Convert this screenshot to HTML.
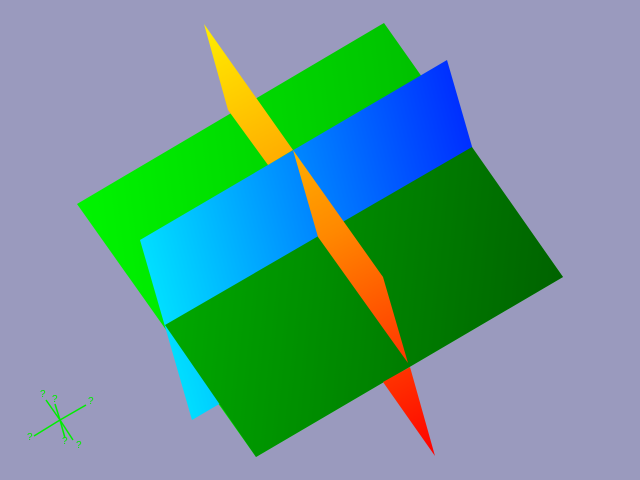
<!DOCTYPE html>
<html><head><meta charset="utf-8"><style>
html,body{margin:0;padding:0;background:#9a9abe;}
svg{display:block;}
</style></head><body>
<svg width="640" height="480" viewBox="0 0 640 480" xmlns="http://www.w3.org/2000/svg">
<defs>
<linearGradient id="gUp" gradientUnits="userSpaceOnUse" x1="80" y1="200" x2="470" y2="150">
<stop offset="0" stop-color="#00f400"/><stop offset="1" stop-color="#00bb00"/></linearGradient>
<linearGradient id="gLow" gradientUnits="userSpaceOnUse" x1="170" y1="300" x2="560" y2="340">
<stop offset="0" stop-color="#00a800"/><stop offset="1" stop-color="#006200"/></linearGradient>
<linearGradient id="bl" gradientUnits="userSpaceOnUse" x1="130" y1="240" x2="470" y2="150">
<stop offset="0" stop-color="#00e4ff"/><stop offset="1" stop-color="#0030ff"/></linearGradient>
<linearGradient id="or" gradientUnits="userSpaceOnUse" x1="204" y1="24" x2="435" y2="456">
<stop offset="0" stop-color="#ffee00"/><stop offset="0.5" stop-color="#ff8800"/><stop offset="1" stop-color="#ff0000"/></linearGradient>
</defs>
<rect x="0" y="0" width="640" height="480" fill="#9a9abe"/>
<polygon points="77,204 384,23 563,277 256,457" fill="url(#gUp)"/>
<polygon points="140,240 447,60 499,240 192,420" fill="url(#bl)"/>
<polygon points="165,325 472,147 563,277 256,457" fill="url(#gLow)"/>
<polygon points="204,24 293,150 268,165 228,110" fill="url(#or)"/>
<polygon points="293,150 383,277 408,363 318,237" fill="url(#or)"/>
<polygon points="383,382 410,367 435,456" fill="url(#or)"/>
<g stroke="#00ee00" stroke-width="1.5" fill="#00ee00" font-family="Liberation Sans, sans-serif" font-size="10">
<line x1="60" y1="420" x2="46" y2="400"/>
<line x1="60" y1="420" x2="55" y2="404"/>
<line x1="60" y1="420" x2="86" y2="405"/>
<line x1="60" y1="420" x2="34" y2="436"/>
<line x1="60" y1="420" x2="65" y2="438"/>
<line x1="60" y1="420" x2="73" y2="440"/>
<text x="40" y="397" stroke="none">?</text>
<text x="52" y="402" stroke="none">?</text>
<text x="88" y="404" stroke="none">?</text>
<text x="27" y="440" stroke="none">?</text>
<text x="62" y="444" stroke="none">?</text>
<text x="76" y="448" stroke="none">?</text>
</g>
</svg>
</body></html>
